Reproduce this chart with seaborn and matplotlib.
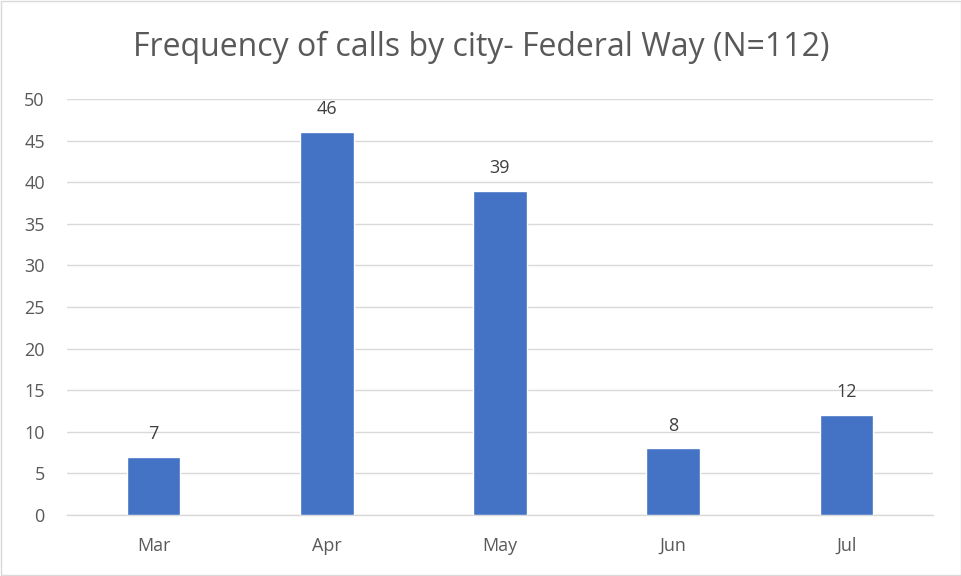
import matplotlib
matplotlib.use("Agg")
import matplotlib.pyplot as plt
import seaborn as sns
import pandas as pd

months = ["Mar", "Apr", "May", "Jun", "Jul"]
calls = [7, 46, 39, 8, 12]
title = "Frequency of calls by city- Federal Way (N=112)"

sns.set_style("white")
plt.rcParams['font.family'] = ['Open Sans', 'DejaVu Sans']

df = pd.DataFrame({"month": months, "calls": calls})

fig = plt.figure(figsize=(9.62, 5.76), dpi=100)
ax = fig.add_axes([67/962, 1-515/576, (933-67)/962, (515-99)/576])

sns.barplot(data=df, x="month", y="calls", color="#4472C4", width=0.31,
            saturation=1, ax=ax, zorder=3)

ax.set_ylim(0, 50)
ax.set_yticks(range(0, 51, 5))
ax.yaxis.grid(True, color="#D9D9D9", linewidth=1, zorder=0)
ax.set_axisbelow(True)
for s in ["top", "right", "left"]:
    ax.spines[s].set_visible(False)
ax.spines["bottom"].set_color("#D9D9D9")
ax.spines["bottom"].set_linewidth(1)
ax.tick_params(axis="both", length=0, labelsize=13, colors="#595959")
ax.tick_params(axis="x", pad=16)
ax.tick_params(axis="y", pad=16)
ax.set_xlabel("")
ax.set_ylabel("")

for c in ax.containers:
    ax.bar_label(c, padding=10, fontsize=13, color="#404040")

fig.text(0.5, 1-47/576, title, ha="center", va="center", fontsize=23, color="#595959")

border = plt.Rectangle((0.001, 0.001), 0.998, 0.998, transform=fig.transFigure,
                       fill=False, edgecolor="#D9D9D9", linewidth=1)
fig.patches.append(border)

fig.savefig("out.png", dpi=100)
